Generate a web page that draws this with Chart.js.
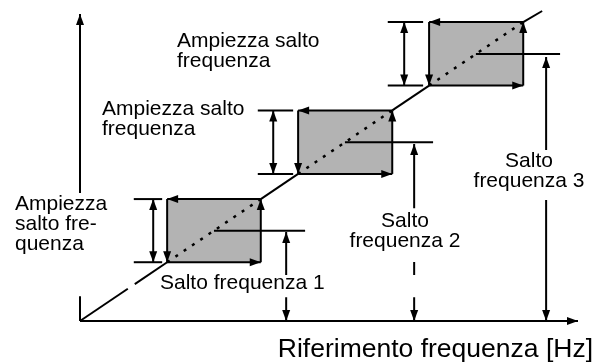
<!DOCTYPE html>
<html>
<head>
<meta charset="utf-8">
<script src="https://cdn.jsdelivr.net/npm/chart.js@4.4.0/dist/chart.umd.min.js"></script>
<style>
html, body {
    margin: 0;
    padding: 0;
    background: #fff;
}
#wrap {
    width: 598px;
    height: 363px;
    position: relative;
}
</style>
</head>
<body>
<div id="wrap"><canvas id="jumpChart"></canvas></div>
<script>
// Frequency units are arbitrary; outside the jump bands the output follows the reference (y = x)
var jumpLow = [17.5, 43.8, 70.1];
var jumpHigh = [36.3, 62.7, 89.0];
var jumpFreq = [26.9, 53.2, 79.5];
var leaderEnd = [45.2, 70.9, 96.4];
var markerX = [41.4, 67.1, 93.6];
// visible pieces of each "Salto frequenza" arrow, top to bottom
var markerParts = [
    [[26.5, 13.7], [7.1, 0]],
    [[52.7, 33.6], [17.6, 13.7], [7.1, 0]],
    [[78.6, 50.9], [36.0, 0]]
];
var dimTickFrom = [10.8, 35.7, 61.8];
var dimTickTo = [16.5, 42.8, 68.9];
var dimArrowX = [14.7, 38.8, 65.1];
var lineGap = [9.6, 11.0];
var lineTail = [92.8, 92.3];
var axisXMax = 100;
var axisYMax = 91.4;
var yAxisGap = [7.4, 38.1];

function pt(x, y) { return {x: x, y: y}; }

function seg(points, extra) {
    var ds = {
        data: points,
        showLine: true,
        borderColor: "#000",
        borderWidth: 2,
        pointRadius: 0,
        fill: false,
        clip: false,
        order: 1
    };
    for (var k in extra) ds[k] = extra[k];
    return ds;
}

var datasets = [];

// axes
datasets.push(seg([pt(0, 0), pt(axisXMax, 0)], {arrowEnd: true}));
datasets.push(seg([pt(0, 0), pt(0, yAxisGap[0])]));
datasets.push(seg([pt(0, yAxisGap[1]), pt(0, axisYMax)], {arrowEnd: true}));

// output characteristic between the bands
datasets.push(seg([pt(0, 0), pt(lineGap[0], lineGap[0])]));
datasets.push(seg([pt(lineGap[1], lineGap[1]), pt(jumpLow[0], jumpLow[0])]));
for (var i = 0; i < jumpLow.length - 1; i++) {
    datasets.push(seg([pt(jumpHigh[i], jumpHigh[i]), pt(jumpLow[i + 1], jumpLow[i + 1])]));
}
var last = jumpHigh.length - 1;
datasets.push(seg([pt(jumpHigh[last], jumpHigh[last]), pt(lineTail[0], lineTail[1])]));

for (var i = 0; i < jumpLow.length; i++) {
    var lo = jumpLow[i], hi = jumpHigh[i], f = jumpFreq[i];

    // grey band
    datasets.push(seg([pt(lo, lo), pt(hi, lo), pt(hi, hi), pt(lo, hi), pt(lo, lo)], {
        borderWidth: 0,
        borderColor: "rgba(0,0,0,0)",
        backgroundColor: "#b3b3b3",
        fill: "shape",
        order: 5
    }));

    // hysteresis edges
    datasets.push(seg([pt(lo, lo), pt(hi, lo)], {arrowEnd: true}));
    datasets.push(seg([pt(hi, lo), pt(hi, hi)], {arrowEnd: true}));
    datasets.push(seg([pt(hi, hi), pt(lo, hi)], {arrowEnd: true}));
    datasets.push(seg([pt(lo, hi), pt(lo, lo)], {arrowEnd: true}));

    // dotted reference inside the band
    datasets.push(seg([pt(lo, lo), pt(hi, hi)], {borderDash: [3, 7], borderWidth: 2.5, order: 2}));

    // jump frequency leader + marker arrow
    datasets.push(seg([pt(f, f), pt(leaderEnd[i], f)]));
    var parts = markerParts[i];
    for (var j = 0; j < parts.length; j++) {
        datasets.push(seg([pt(markerX[i], parts[j][0]), pt(markerX[i], parts[j][1])], {
            arrowStart: j == 0,
            arrowEnd: j == parts.length - 1
        }));
    }

    // band width dimension
    datasets.push(seg([pt(dimTickFrom[i], lo), pt(dimTickTo[i], lo)]));
    datasets.push(seg([pt(dimTickFrom[i], hi), pt(dimTickTo[i], hi)]));
    datasets.push(seg([pt(dimArrowX[i], lo), pt(dimArrowX[i], hi)], {arrowStart: true, arrowEnd: true}));
}

function drawHead(ctx, from, to) {
    var a = Math.atan2(to.y - from.y, to.x - from.x);
    var len = 11, half = 4;
    var bx = to.x - len * Math.cos(a), by = to.y - len * Math.sin(a);
    ctx.beginPath();
    ctx.moveTo(to.x, to.y);
    ctx.lineTo(bx + half * Math.sin(a), by - half * Math.cos(a));
    ctx.lineTo(bx - half * Math.sin(a), by + half * Math.cos(a));
    ctx.closePath();
    ctx.fill();
}

var arrowHeads = {
    id: "arrowHeads",
    afterDatasetsDraw: function(chart) {
        var ctx = chart.ctx;
        ctx.save();
        ctx.fillStyle = "#000";
        chart.data.datasets.forEach(function(ds, i) {
            var p = chart.getDatasetMeta(i).data;
            if (ds.arrowEnd) drawHead(ctx, p[p.length - 2], p[p.length - 1]);
            if (ds.arrowStart) drawHead(ctx, p[1], p[0]);
        });
        ctx.restore();
    }
};

var textLabels = {
    id: "textLabels",
    afterDraw: function(chart, args, opts) {
        var ctx = chart.ctx;
        ctx.save();
        ctx.fillStyle = "#000";
        ctx.textBaseline = "alphabetic";
        opts.items.forEach(function(it) {
            ctx.font = it.size + "px 'Liberation Sans', Arial, sans-serif";
            ctx.textAlign = it.align;
            it.lines.forEach(function(line, k) {
                ctx.fillText(line, it.x, it.y + k * it.lh);
            });
        });
        ctx.restore();
    }
};

new Chart(document.getElementById("jumpChart"), {
    type: "scatter",
    data: {datasets: datasets},
    options: {
        responsive: true,
        maintainAspectRatio: false,
        animation: false,
        events: [],
        layout: {padding: {left: 80, right: 20, top: 12, bottom: 42}},
        scales: {
            x: {type: "linear", min: 0, max: 100, display: false},
            y: {type: "linear", min: 0, max: 92, display: false}
        },
        plugins: {
            legend: {display: false},
            tooltip: {enabled: false},
            textLabels: {
                items: [
                    {lines: ["Ampiezza salto", "frequenza"], x: 177, y: 47, lh: 19.5, size: 21, align: "left"},
                    {lines: ["Ampiezza salto", "frequenza"], x: 102, y: 115, lh: 19.5, size: 21, align: "left"},
                    {lines: ["Ampiezza", "salto fre-", "quenza"], x: 15, y: 210, lh: 20, size: 21, align: "left"},
                    {lines: ["Salto frequenza 1"], x: 160, y: 289, lh: 20, size: 21, align: "left"},
                    {lines: ["Salto", "frequenza 2"], x: 405, y: 227, lh: 20, size: 21, align: "center"},
                    {lines: ["Salto", "frequenza 3"], x: 529, y: 167, lh: 20, size: 21, align: "center"},
                    {lines: ["Riferimento frequenza [Hz]"], x: 593, y: 357, lh: 26, size: 26.5, align: "right"}
                ]
            }
        }
    },
    plugins: [arrowHeads, textLabels]
});
</script>
</body>
</html>
